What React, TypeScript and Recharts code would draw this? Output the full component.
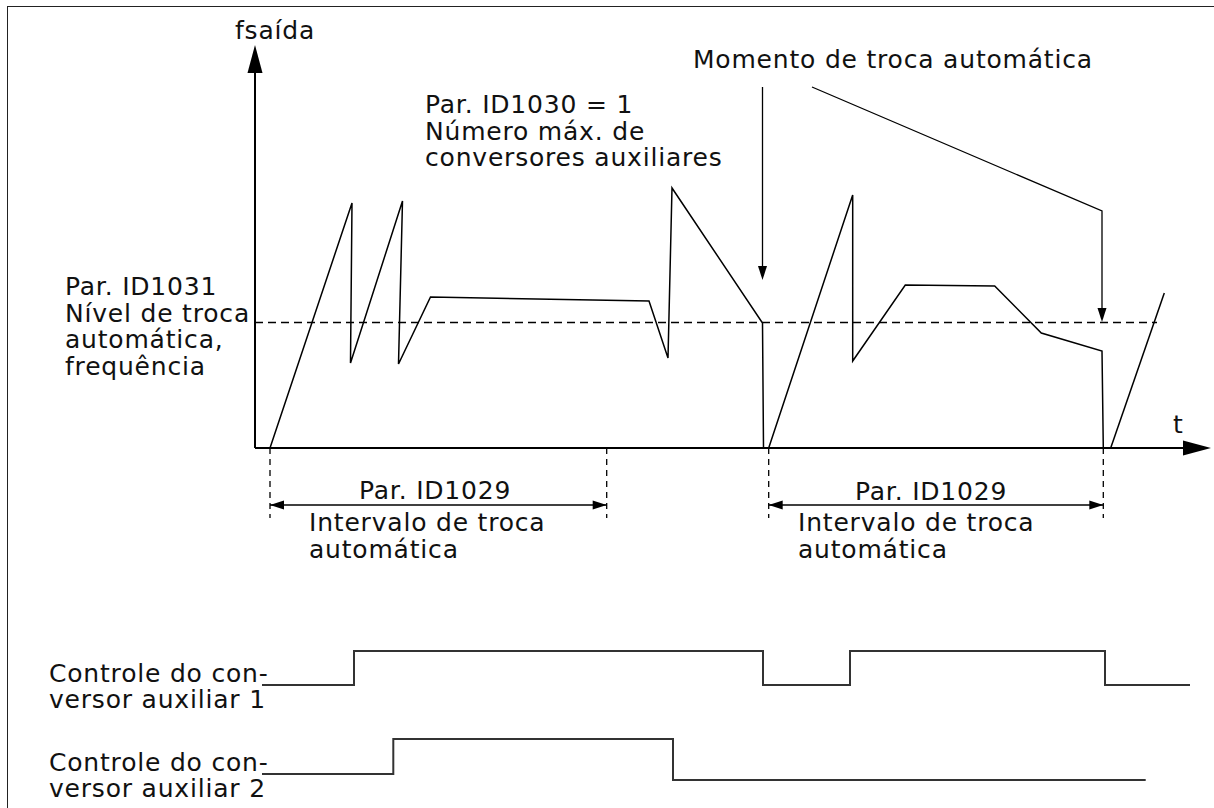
import { ComposedChart, Line, Scatter, XAxis, YAxis } from 'recharts'

// diagram units: t = time (0 at the f axis), f = output frequency (0 on the t axis)
// the lower part (negative f) holds the dimension marks and the auxiliary drive signals

const run1 = [
  { t: 15, f: 0 }, { t: 97, f: 245 }, { t: 95.5, f: 85 }, { t: 147.5, f: 247 },
  { t: 143.5, f: 84 }, { t: 175.5, f: 151 }, { t: 394, f: 147 }, { t: 413, f: 90 },
  { t: 417, f: 260 }, { t: 507.5, f: 125 }, { t: 508.5, f: 0 },
]
const run2 = [
  { t: 513.7, f: 0 }, { t: 597.7, f: 253 }, { t: 597.7, f: 87 }, { t: 650.3, f: 163 },
  { t: 739.7, f: 162 }, { t: 786.3, f: 115 }, { t: 847, f: 97 }, { t: 848.3, f: 0 },
]
const run3 = [{ t: 855.7, f: 0 }, { t: 909.3, f: 155 }]

const switchLevel = [{ t: 0, f: 125.5 }, { t: 902, f: 125.5 }]

const fAxis = [{ t: 0, f: 0 }, { t: 0, f: 378 }]
const tAxis = [{ t: 0, f: 0 }, { t: 932, f: 0 }]

const pointer1 = [{ t: 507.5, f: 361 }, { t: 507.5, f: 180 }]
const pointer2 = [{ t: 557, f: 361 }, { t: 847, f: 237 }, { t: 847, f: 134 }]

const interval1 = [{ t: 15, f: -57 }, { t: 351.7, f: -57 }]
const interval2 = [{ t: 513.7, f: -57 }, { t: 848.3, f: -57 }]
const extLines = [
  [{ t: 15, f: 0 }, { t: 15, f: -70 }],
  [{ t: 351.7, f: 0 }, { t: 351.7, f: -70 }],
  [{ t: 513.7, f: 0 }, { t: 513.7, f: -70 }],
  [{ t: 848.3, f: 0 }, { t: 848.3, f: -70 }],
]

// on/off signals, each value holds until the next point
const aux1 = [
  { t: 7, f: -237 }, { t: 99, f: -203 }, { t: 508, f: -237 },
  { t: 595, f: -203 }, { t: 850, f: -237 }, { t: 935, f: -237 },
]
const aux2 = [
  { t: 7, f: -326 }, { t: 138.3, f: -291 }, { t: 418, f: -332 }, { t: 890.7, f: -332 },
]

// tip of each arrow head, angle in degrees (0 = right, 90 = down)
const bigHeads = [
  { t: 0, f: 403, angle: -90 },
  { t: 956, f: 0, angle: 0 },
]
const smallHeads = [
  { t: 507.5, f: 168, angle: 90 },
  { t: 847, f: 126, angle: 90 },
  { t: 15, f: -57, angle: 180 },
  { t: 351.7, f: -57, angle: 0 },
  { t: 513.7, f: -57, angle: 180 },
  { t: 848.3, f: -57, angle: 0 },
]

const mainLabels = [
  { t: -20, f: 409, lines: ['fsaída'] },
  { t: 438, f: 380, lines: ['Momento de troca automática'] },
  { t: 170, f: 335, lines: ['Par. ID1030 = 1', 'Número máx. de', 'conversores auxiliares'] },
  { t: -190, f: 153, lines: ['Par. ID1031', 'Nível de troca', 'automática,', 'frequência'] },
  { t: 918, f: 15, lines: ['t'] },
  { t: 104, f: -51, lines: ['Par. ID1029'] },
  { t: 600, f: -52, lines: ['Par. ID1029'] },
  { t: 54, f: -83, lines: ['Intervalo de troca', 'automática'] },
  { t: 543, f: -83, lines: ['Intervalo de troca', 'automática'] },
]
const auxLabels = [
  { t: -206, f: -233.5, lines: ['Controle do con-', 'versor auxiliar 1'] },
  { t: -206, f: -322.5, lines: ['Controle do con-', 'versor auxiliar 2'] },
]

const FONT = '"DejaVu Sans", Verdana, sans-serif'

const textShape = (gap: number) => (props: any) => {
  const { cx, cy, payload } = props
  if (cx == null || cy == null) return <g />
  return (
    <text x={cx} y={cy} fontFamily={FONT} fontSize={25} letterSpacing={0.8} fill="#111">
      {payload.lines.map((l: string, i: number) => (
        <tspan key={i} x={cx} dy={i === 0 ? 0 : gap}>{l}</tspan>
      ))}
    </text>
  )
}

const headShape = (len: number, half: number) => (props: any) => {
  const { cx, cy, payload } = props
  if (cx == null || cy == null) return <g />
  return (
    <polygon
      points={`0,0 ${-len},${-half} ${-len},${half}`}
      transform={`translate(${cx},${cy}) rotate(${payload.angle})`}
      fill="#000"
    />
  )
}

const seg = (
  data: { t: number; f: number }[],
  key: string,
  width = 1.5,
  dash?: string,
  color = '#000',
  kind: 'linear' | 'stepAfter' = 'linear',
) => (
  <Line
    key={key}
    data={data}
    dataKey="f"
    type={kind}
    stroke={color}
    strokeWidth={width}
    strokeDasharray={dash}
    dot={false}
    activeDot={false}
    isAnimationActive={false}
  />
)

export default function App() {
  return (
    <div style={{ position: 'absolute', left: 0, top: 0, width: 1214, height: 808, background: '#fff', overflow: 'hidden' }}>
      {/* frame */}
      <div style={{ position: 'absolute', left: 7, top: 6, width: 1210, height: 805, borderLeft: '1.5px solid #222', borderTop: '1.5px solid #222' }} />
      <div style={{ position: 'absolute', left: 0, top: 0 }}>
        <ComposedChart width={1214} height={808} margin={{ top: 0, right: 0, bottom: 0, left: 0 }}>
          <XAxis dataKey="t" type="number" domain={[-255, 959]} allowDataOverflow hide />
          <YAxis type="number" domain={[-360, 448]} allowDataOverflow hide />

          {seg(fAxis, 'fAxis', 2)}
          {seg(tAxis, 'tAxis', 2)}
          {seg(switchLevel, 'level', 1.3, '8 5')}

          {seg(run1, 'run1')}
          {seg(run2, 'run2')}
          {seg(run3, 'run3')}

          {seg(pointer1, 'p1', 1.3)}
          {seg(pointer2, 'p2', 1.3)}

          {extLines.map((l, i) => seg(l, `ext${i}`, 1.3, '6 5'))}
          {seg(interval1, 'iv1', 1.5)}
          {seg(interval2, 'iv2', 1.5)}

          {seg(aux1, 'aux1', 2, undefined, '#333', 'stepAfter')}
          {seg(aux2, 'aux2', 2, undefined, '#333', 'stepAfter')}

          <Scatter data={bigHeads} dataKey="f" shape={headShape(28, 7.5)} isAnimationActive={false} />
          <Scatter data={smallHeads} dataKey="f" shape={headShape(14, 4.5)} isAnimationActive={false} />
          <Scatter data={mainLabels} dataKey="f" shape={textShape(26.5)} isAnimationActive={false} />
          <Scatter data={auxLabels} dataKey="f" shape={textShape(26.5)} isAnimationActive={false} />
        </ComposedChart>
      </div>
    </div>
  )
}
